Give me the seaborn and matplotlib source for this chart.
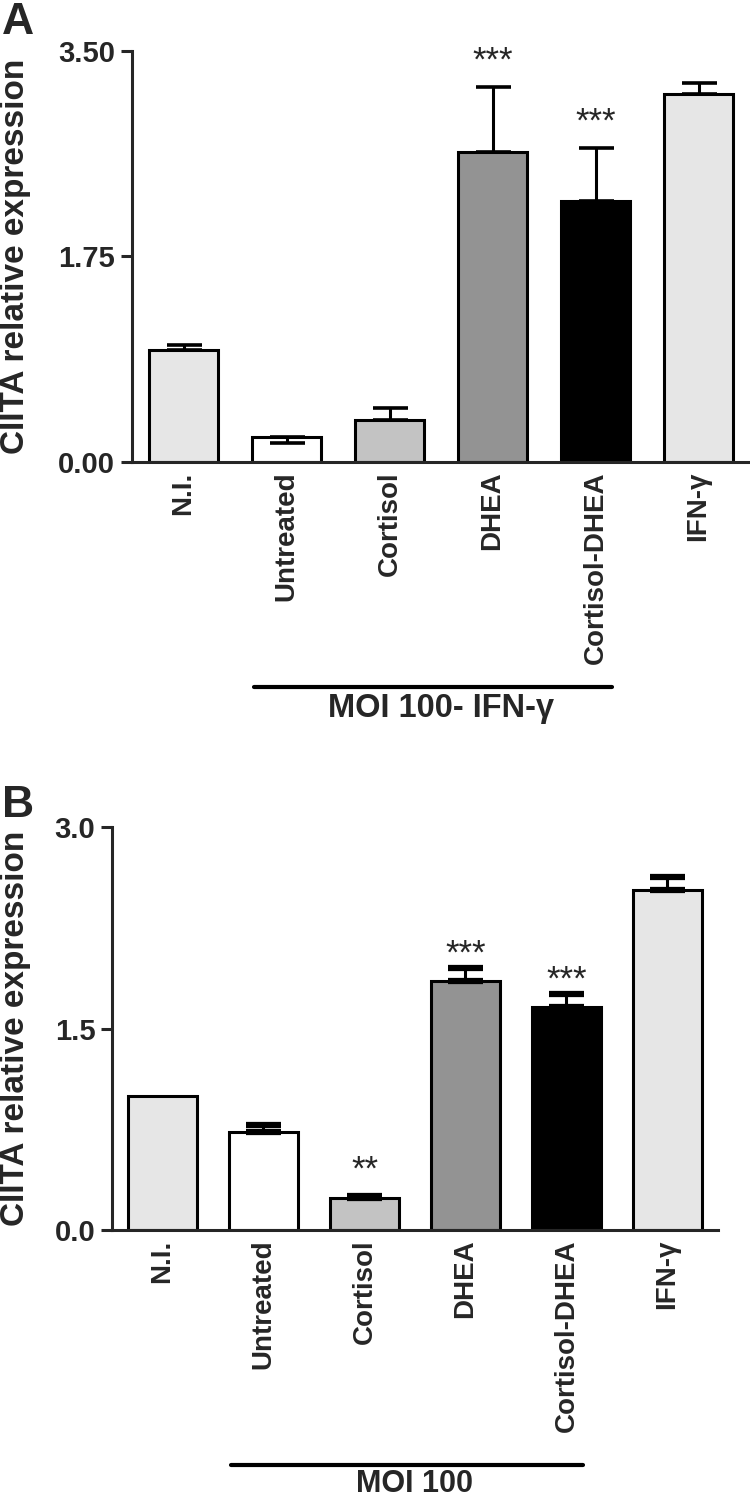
import numpy as np
import pandas as pd
import matplotlib
matplotlib.use("Agg")
import matplotlib.pyplot as plt
import seaborn as sns

# categories and colours (shared by both panels)
categories = ["N.I.", "Untreated", "Cortisol", "DHEA", "Cortisol-DHEA", "IFN-γ"]
bar_colors = ["#e6e6e6", "#ffffff", "#c3c3c3", "#939393", "#000000", "#e6e6e6"]

# panel A: MOI 100 - IFN-gamma
a_mean = [0.95, 0.21, 0.36, 2.64, 2.22, 3.13]
a_err_up = [0.05, 0.00, 0.10, 0.55, 0.45, 0.10]
a_err_down = [0.00, 0.05, 0.00, 0.00, 0.00, 0.00]
a_stars = ["", "", "", "***", "***", ""]
a_ticks = [0, 1.75, 3.5]
a_ticklabels = ["0.00", "1.75", "3.50"]

# panel B: MOI 100
b_mean = [1.00, 0.73, 0.24, 1.85, 1.66, 2.53]
b_err_up = [0.00, 0.05, 0.01, 0.10, 0.10, 0.10]
b_err_down = [0.00, 0.00, 0.00, 0.00, 0.00, 0.00]
b_stars = ["", "", "**", "***", "***", ""]
b_ticks = [0, 1.5, 3.0]
b_ticklabels = ["0.0", "1.5", "3.0"]

sns.set_style("ticks")
plt.rcParams["font.family"] = ["Liberation Sans", "DejaVu Sans"]

fig = plt.figure(figsize=(7.5, 15.03), dpi=100)
ax_a = fig.add_axes([0.176, 0.6926, 0.824, 0.2735])
ax_b = fig.add_axes([0.1493, 0.1816, 0.8080, 0.2682])

LW = 2.2


def draw_panel(ax, means, err_up, err_down, stars, ticks, ticklabels, group_label,
               star_offsets, label_x, bar_width, line_y, text_y, text_size, capthick):
    df = pd.DataFrame({"group": categories, "value": means})
    sns.barplot(data=df, x="group", y="value", hue="group", order=categories,
                palette=bar_colors, saturation=1, edgecolor="black",
                linewidth=LW, width=bar_width, legend=False, ax=ax, zorder=2)

    xs = np.arange(len(categories))
    up = np.array(err_up)
    down = np.array(err_down)
    has_err = (up > 0) | (down > 0)
    ax.errorbar(xs[has_err], np.array(means)[has_err],
                yerr=[down[has_err], up[has_err]], fmt="none", ecolor="black",
                elinewidth=LW, capsize=12.6, capthick=capthick, zorder=3)

    for i, s in enumerate(stars):
        if s:
            ax.annotate(s, (i, means[i] + up[i]),
                        xytext=(0, star_offsets.get(i, star_offsets["default"])),
                        textcoords="offset points", ha="center", va="baseline",
                        fontsize=25, fontweight="normal")

    ax.set_xlim(-0.5, len(categories) - 0.5)
    ax.set_ylim(0, ticks[-1])
    ax.set_yticks(ticks)
    ax.set_yticklabels(ticklabels, fontsize=21, fontweight="bold")
    ax.set_xticks(xs)
    ax.set_xticklabels(categories, rotation=90, fontsize=20, fontweight="bold",
                       va="top", ha="center")
    ax.tick_params(axis="x", length=0, pad=7)
    ax.tick_params(axis="y", length=8, width=LW, pad=4)
    ax.set_xlabel("")
    ax.set_ylabel("CIITA relative expression", fontsize=24, fontweight="bold")
    ax.yaxis.set_label_coords(label_x, 0.5)
    sns.despine(ax=ax)
    for side in ["left", "bottom"]:
        ax.spines[side].set_linewidth(LW)

    # bracket under the infected groups
    trans = ax.get_xaxis_transform()
    start = categories.index("Untreated") - 0.32
    end = categories.index("Cortisol-DHEA") + 0.16
    ax.plot([start, end], [line_y, line_y], color="black", lw=3,
            transform=trans, clip_on=False)
    ax.text(2.5, text_y, group_label, transform=trans, ha="center", va="top",
            fontsize=text_size, fontweight="bold")


draw_panel(ax_a, a_mean, a_err_up, a_err_down, a_stars, a_ticks, a_ticklabels,
           "MOI 100- IFN-γ", {"default": 12}, -0.163, 0.67, -0.547, -0.563, 23.5, 2.6)
draw_panel(ax_b, b_mean, b_err_up, b_err_down, b_stars, b_ticks, b_ticklabels,
           "MOI 100", {"default": 3, 2: 12}, -0.134, 0.68, -0.583, -0.593, 22, 4.5)

fig.text(0.003, 0.999, "A", fontsize=32, fontweight="bold", va="top", ha="left")
fig.text(0.003, 0.478, "B", fontsize=32, fontweight="bold", va="top", ha="left")

fig.savefig("out.png", dpi=100)
